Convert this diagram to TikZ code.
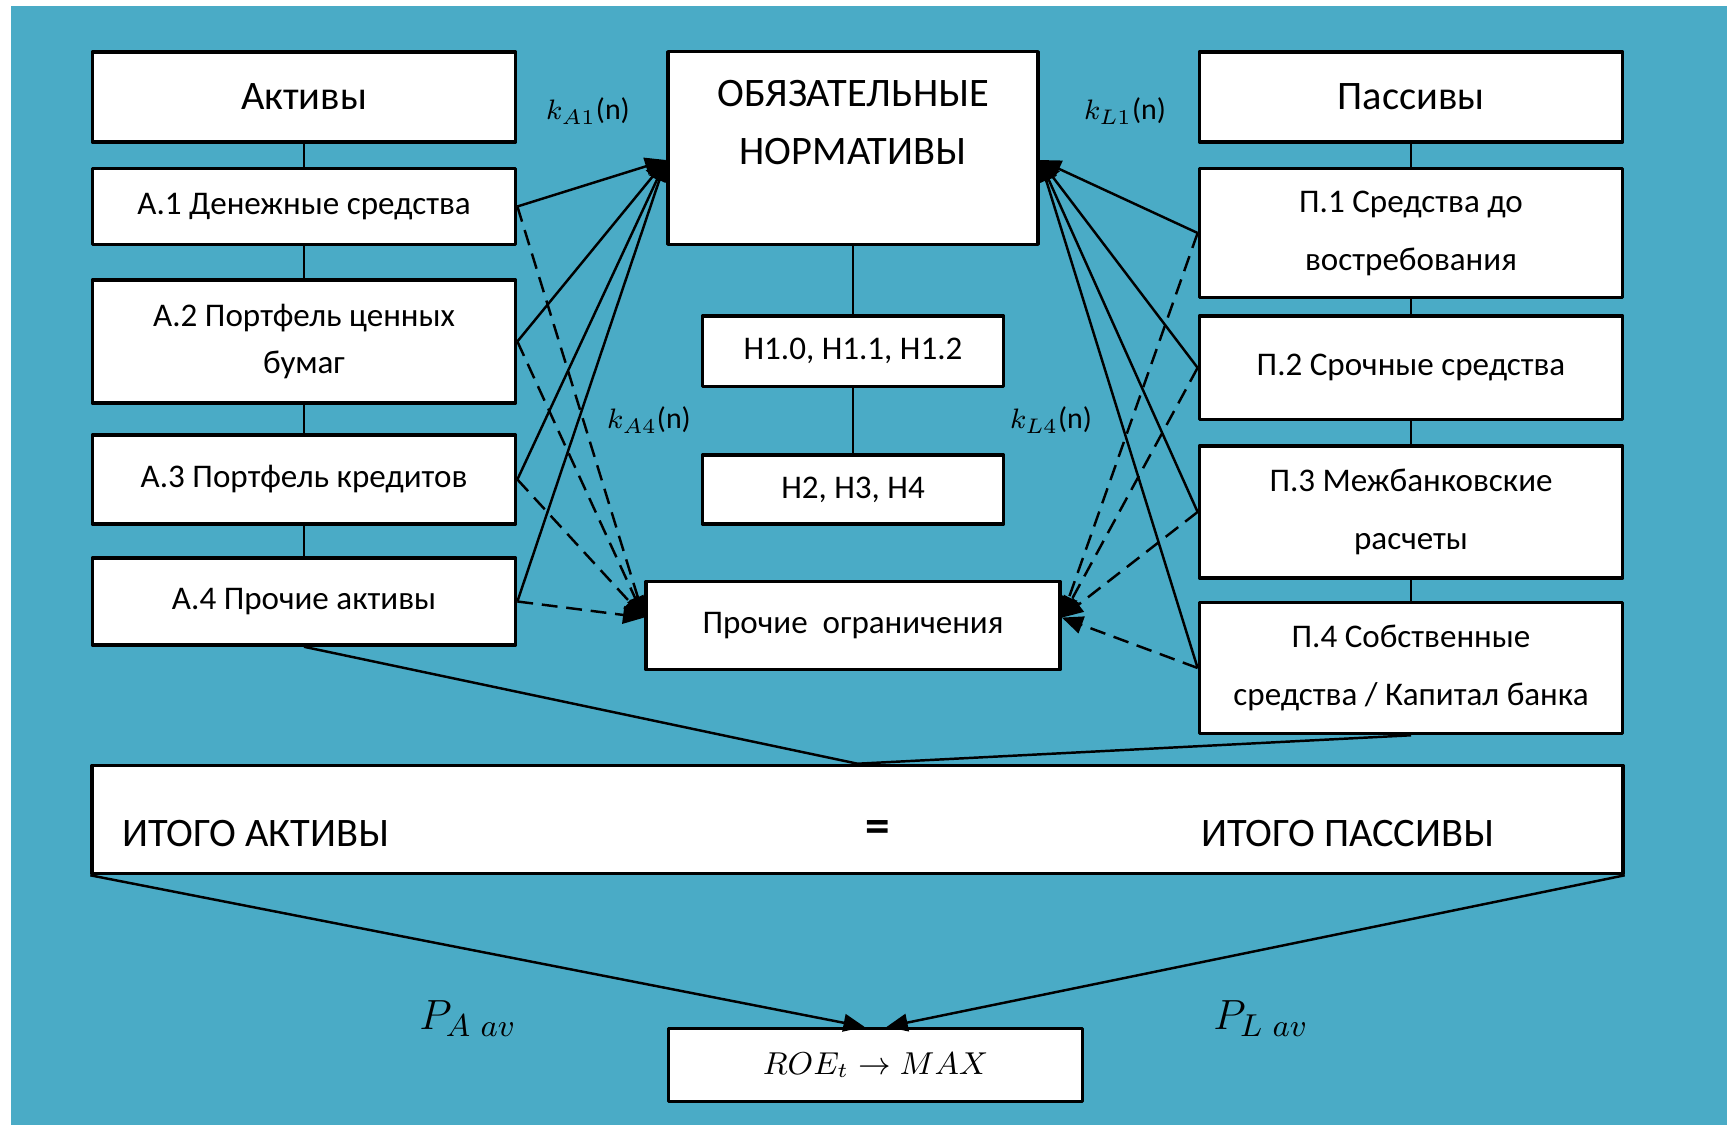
\documentclass[tikz,border=0pt]{standalone}
\usepackage{fontspec}
\setmainfont{Carlito}
\usepackage{amsmath}
\usepackage{amssymb}
\usetikzlibrary{arrows.meta}
\definecolor{bgteal}{RGB}{74,171,198}

\begin{document}
\begin{tikzpicture}[x=0.01cm, y=-0.01cm, % one unit = one pixel of the scan, y goes down
                    line join=round,
                    box/.style = {draw, fill=white, line width=1pt, align=center, inner sep=2pt,
                                  font=\fontsize{9.4}{16.5}\selectfont},
                    headbox/.style = {box, font=\fontsize{11.5}{16.5}\selectfont},
                    link/.style = {line width=0.7pt},
                    tonorm/.style = {link, -{Triangle[length=6pt,width=5pt]}},
                    toother/.style = {tonorm, dash pattern=on 4.5pt off 2.5pt},
                    every node/.style = {inner sep=1pt}
                   ]
  \useasboundingbox (0,0) rectangle (1727,1125);
  \fill[bgteal] (11,6) rectangle (1727,1125);

  % assets
  \node[headbox, minimum width=4.23cm, minimum height=0.90cm] (akt) at (304,97) {Активы};
  \node[box, minimum width=4.23cm, minimum height=0.76cm] (a1) at (304,206.5) {А.1 Денежные средства};
  \node[box, minimum width=4.23cm, minimum height=1.23cm,
        font=\fontsize{9.4}{13.5}\selectfont] (a2) at (304,341.5) {А.2 Портфель ценных\\бумаг};
  \node[box, minimum width=4.23cm, minimum height=0.89cm] (a3) at (304,479.5) {А.3 Портфель кредитов};
  \node[box, minimum width=4.23cm, minimum height=0.87cm] (a4) at (304,601.5) {А.4 Прочие активы};
  \draw[link] (akt) -- (a1) -- (a2) -- (a3) -- (a4);

  % norms
  \node[headbox, minimum width=3.70cm, minimum height=1.925cm] (obn) at (853,148) {};
  \node[align=center, font=\fontsize{11.5}{16.5}\selectfont] (obntext) at (853,123) {ОБЯЗАТЕЛЬНЫЕ\\НОРМАТИВЫ};
  \node[box, minimum width=3.01cm, minimum height=0.706cm] (n1) at (853,351.3) {Н1.0, Н1.1, Н1.2};
  \node[box, minimum width=3.01cm, minimum height=0.69cm] (n2) at (853,489.5) {Н2, Н3, Н4};
  \node[box, minimum width=4.14cm, minimum height=0.88cm] (pro) at (853,625.6) {Прочие\ \ ограничения};
  \draw[link] (obn) -- (n1) -- (n2);

  % liabilities
  \node[headbox, minimum width=4.23cm, minimum height=0.90cm] (pas) at (1411,97) {Пассивы};
  \node[box, minimum width=4.23cm, minimum height=1.29cm] (p1) at (1411,233) {П.1 Средства до\\востребования};
  \node[box, minimum width=4.23cm, minimum height=1.036cm] (p2) at (1411,367.8) {П.2 Срочные средства};
  \node[box, minimum width=4.23cm, minimum height=1.32cm] (p3) at (1411,512) {П.3 Межбанковские\\расчеты};
  \node[box, minimum width=4.23cm, minimum height=1.31cm] (p4) at (1411,668) {П.4 Собственные\\средства / Капитал банка};
  \draw[link] (pas) -- (p1) -- (p2) -- (p3) -- (p4);

  % where the arrows meet
  \coordinate (obnL) at ([yshift=-0.12cm]obn.west);
  \coordinate (obnR) at ([yshift=-0.12cm]obn.east);
  \coordinate (proL) at ([yshift=0.08cm]pro.west);
  \coordinate (proR) at ([yshift=0.08cm]pro.east);
  \foreach \s in {a1,a2,a3,a4} {
    \draw[tonorm] (\s.east) -- (obnL);
    \draw[toother] (\s.east) -- (proL);
  }
  \foreach \s in {p1,p2,p3,p4} {
    \draw[tonorm] (\s.west) -- (obnR);
    \draw[toother] (\s.west) -- (proR);
  }
  \node[font=\fontsize{8.5}{10}\selectfont] (ka1) at (588,111) {$k_{A1}$(n)};
  \node[font=\fontsize{8.5}{10}\selectfont] (kl1) at (1125,111) {$k_{L1}$(n)};
  \node[font=\fontsize{8.5}{10}\selectfont] (ka4) at (649,420) {$k_{A4}$(n)};
  \node[font=\fontsize{8.5}{10}\selectfont] (kl4) at (1051,420) {$k_{L4}$(n)};

  % totals
  \node[draw, fill=white, line width=1pt, minimum width=15.30cm, minimum height=1.08cm] (itogo) at (857.5,819.5) {};
  \node[font=\fontsize{11.5}{14}\selectfont] (itakt) at (255.5,834) {ИТОГО АКТИВЫ};
  \node[font=\fontsize{14}{14}\selectfont\bfseries] (itequal) at (878,832) {=};
  \node[font=\fontsize{11.5}{14}\selectfont] (itpas) at (1347.5,834) {ИТОГО ПАССИВЫ};
  \draw[link] (a4.south) -- (itogo.north) -- (p4.south);

  % result
  \node[box, minimum width=4.14cm, minimum height=0.727cm, font=\fontsize{9}{10}\selectfont] (roe) at (875.6,1065) {$ROE_t \rightarrow MAX$};
  \draw[tonorm] (itogo.south west) -- ([xshift=-0.11cm]roe.north);
  \draw[tonorm] (itogo.south east) -- ([xshift=0.11cm]roe.north);
  \node[font=\fontsize{13}{13}\selectfont] (pav) at (468,1019) {$P_{A\ av}$};
  \node[font=\fontsize{13}{13}\selectfont] (plv) at (1261,1019) {$P_{L\ av}$};
\end{tikzpicture}
\end{document}
